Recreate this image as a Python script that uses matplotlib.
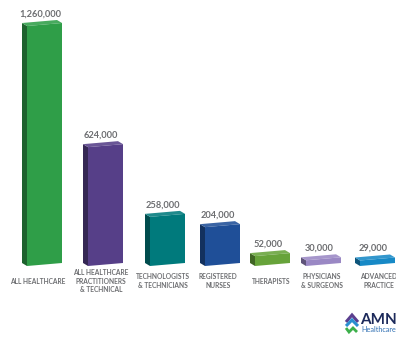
import matplotlib
matplotlib.use("Agg")
import matplotlib.pyplot as plt
from matplotlib.patches import Polygon
from matplotlib.colors import to_rgb

# ---- data ----
categories = [
    "ALL HEALTHCARE",
    "ALL HEALTHCARE\nPRACTITIONERS\n& TECHNICAL",
    "TECHNOLOGISTS\n& TECHNICIANS",
    "REGISTERED\nNURSES",
    "THERAPISTS",
    "PHYSICIANS\n& SURGEONS",
    "ADVANCED\nPRACTICE",
]
values = [1260000, 624000, 258000, 204000, 52000, 30000, 29000]
value_labels = ["1,260,000", "624,000", "258,000", "204,000", "52,000", "30,000", "29,000"]

# ---- styling / layout ----
front_colors = ["#2f9e48", "#563f88", "#007a7c", "#1f4f98", "#67a33a", "#9a88c4", "#1789c6"]
bar_x = [42, 103, 165, 220, 270, 321, 375]   # bar centres on the 0..396 x axis
label_x = [38, 101, 163, 218, 271, 322, 379]
W, H = 396, 337
base_px = 266          # baseline, pixels from top
px_per_val = 240 / 1260000.0
front_w, side_w = 35, 5
slant_px, depth_px = 3, 3
text_grey = "#6d6e71"


def shade(c, f):
    r, g, b = to_rgb(c)
    if f < 1:
        return (r * f, g * f, b * f)
    return tuple(min(1, x + (1 - x) * (f - 1)) for x in (r, g, b))


fig = plt.figure(figsize=(W / 100, H / 100), dpi=100)
ax = fig.add_axes([0, 0, 1, 1])
ax.set_xlim(0, W)
ax.set_ylim(-(H - base_px) / px_per_val, base_px / px_per_val)
ax.axis("off")

u = 1 / px_per_val      # one pixel expressed in value units
s, t = slant_px * u, depth_px * u

for x, lxp, v, c, lab, cat in zip(bar_x, label_x, values, front_colors, value_labels, categories):
    x0 = x - 15
    x1 = x0 + front_w
    xb = x0 - side_w
    side = [(x0, 0), (x0, v), (xb, v + t), (xb, t)]
    top = [(x0, v), (x1, v + s), (x1 - side_w, v + s + t), (xb, v + t)]
    front = [(x0, 0), (x1, s), (x1, v + s), (x0, v)]
    ax.add_patch(Polygon(side, closed=True, fc=shade(c, 0.62), ec="none"))
    ax.add_patch(Polygon(top, closed=True, fc=shade(c, 1.12), ec="none"))
    ax.add_patch(Polygon(front, closed=True, fc=c, ec="none"))
    ax.text(x - 2, v + 12 * u, lab, ha="center", va="center", color=text_grey,
            fontsize=6.7, fontweight="bold", family="Lato")
    ax.text(lxp, -15 * u, cat, ha="center", va="center", color=text_grey,
            fontsize=4.8, fontweight="bold", family="Lato", linespacing=1.2)

# ---- AMN Healthcare logo (bottom right) ----
ly = lambda py: (base_px - py) * u
ax.plot([346, 352, 358], [ly(322), ly(315), ly(322)], color="#5b3f8f", lw=2.2,
        solid_joinstyle="miter", solid_capstyle="butt")
ax.plot([346, 352, 358], [ly(326), ly(320), ly(326)], color="#2a8fd0", lw=2.2,
        solid_joinstyle="miter", solid_capstyle="butt")
ax.plot([346, 349, 353, 357], [ly(328), ly(332), ly(328), ly(332)], color="#3db04b",
        lw=2.0, solid_joinstyle="miter", solid_capstyle="butt")
ax.text(360, ly(320), "AMN", ha="left", va="center", color="#1d2a5b", fontsize=11,
        fontweight="bold", family="Lato")
ax.text(361, ly(329), "Healthcare", ha="left", va="center", color="#2f6fb3", fontsize=5.2,
        family="Lato")

fig.savefig("out.png", dpi=100)
